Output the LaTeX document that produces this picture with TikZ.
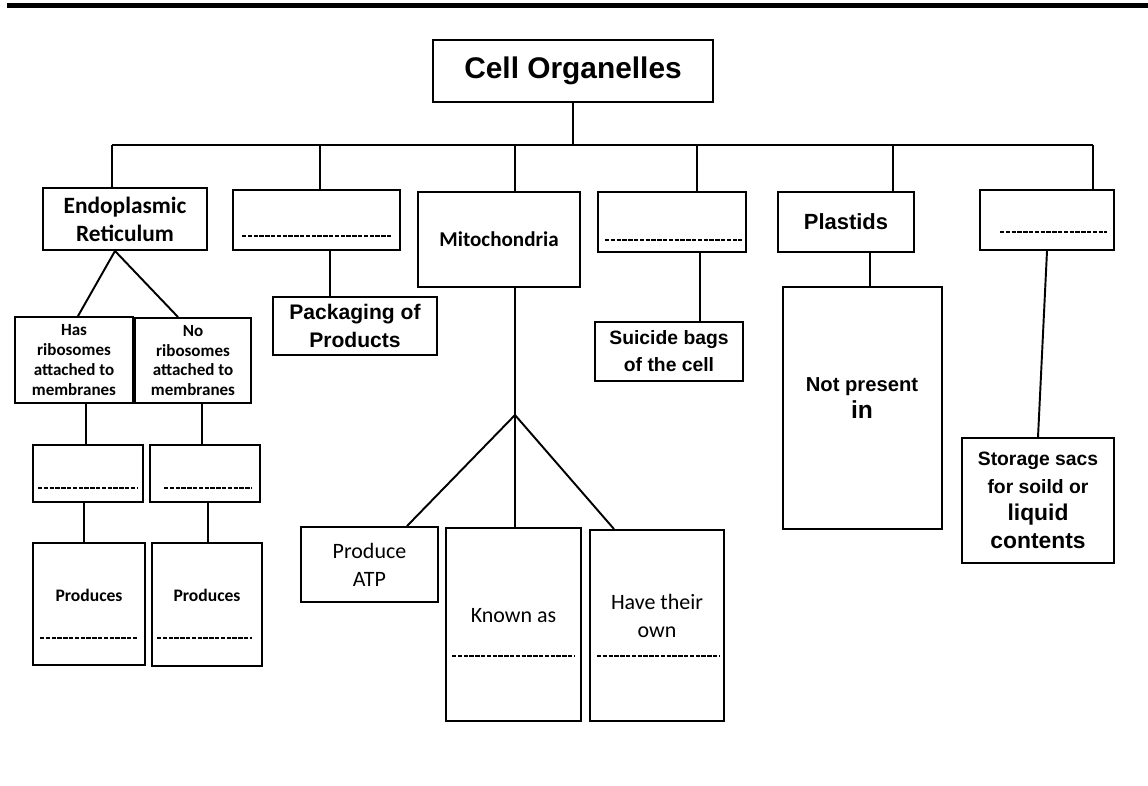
\documentclass[tikz,border=0pt]{standalone}
\usepackage{fontspec}
\setmainfont{Liberation Sans}
\newfontfamily\calfont{Carlito}
\usetikzlibrary{positioning}

\tikzset{
  box/.style={draw, line width=1.1pt, inner sep=0pt, align=center},
  sz/.style 2 args={minimum width=#1*0.02cm, minimum height=#2*0.02cm},
  link/.style={line width=1.1pt},
  fillin/.style={line width=0.9pt, dash pattern=on 2.5pt off 0.8pt},
}

\begin{document}
\begin{tikzpicture}[x=0.02cm, y=-0.02cm]
\useasboundingbox (0,0) rectangle (1148,785);
\fill (7,3) rectangle (1148,8);

\node[box, sz={280}{62}, font=\bfseries\fontsize{17}{20}\selectfont] (ttl) at (573,71) {Cell Organelles};

\coordinate (b1) at (112,145);
\coordinate (b2) at (320,145);
\coordinate (b3) at (515,145);
\coordinate (b4) at (697,145);
\coordinate (b5) at (893,145);
\coordinate (b6) at (1093,145);
\draw[link] (ttl.south) -- (ttl.south |- b1);
\draw[link] (b1) -- (b6);

% first row
\node[box, sz={164}{62}, font=\calfont\bfseries\fontsize{13.3}{16}\selectfont] (er) at (125,219) {Endoplasmic\\Reticulum};
\node[box, sz={167}{60}] (bl1) at (316.5,220) {};
\node[box, sz={162}{95}, font=\calfont\bfseries\fontsize{12}{14}\selectfont] (mito) at (499,239.5) {Mitochondria};
\node[box, sz={148}{60}] (bl2) at (672,222) {};
\node[box, sz={136}{60}, font=\bfseries\fontsize{12.5}{15}\selectfont] (pla) at (846,222) {Plastids};
\node[box, sz={134}{60}] (bl3) at (1047,220) {};
\foreach \b/\n in {b1/er,b2/bl1,b3/mito,b4/bl2,b5/pla,b6/bl3}
  \draw[link] (\b) -- (\b |- \n.north);
\draw[fillin] (242,236) -- (392,236);
\draw[fillin] (605,240) -- (742,240);
\draw[fillin] (1000,232) -- (1107,232);

% endoplasmic reticulum
\node[box, sz={118}{86}, font=\calfont\bfseries\fontsize{9.7}{11.3}\selectfont] (has) at (74,360) {Has\\ribosomes\\attached to\\membranes};
\node[box, sz={116}{85}, font=\calfont\bfseries\fontsize{9.7}{11.3}\selectfont] (nor) at (193,360.5) {No\\ribosomes\\attached to\\membranes};
\draw[link] (has.north -| 78,0) -- (er.south -| 115,0) -- (nor.north -| 178,0);
\node[box, sz={110}{57}] (hasbl) at (88,473.5) {};
\node[box, sz={110}{57}] (norbl) at (205,473.5) {};
\draw[link] (has.south -| 86,0) -- (hasbl.north -| 86,0);
\draw[link] (nor.south -| 202,0) -- (norbl.north -| 202,0);
\draw[fillin] (38,488) -- (137,488);
\draw[fillin] (164,488) -- (252,488);
\node[box, sz={112}{122}] (hasprod) at (89,604) {};
\node[box, sz={110}{123}] (norprod) at (207,604.5) {};
\draw[link] (hasbl.south -| 84,0) -- (hasprod.north -| 84,0);
\draw[link] (norbl.south -| 208,0) -- (norprod.north -| 208,0);
\node[font=\calfont\bfseries\fontsize{10}{12}\selectfont] (hasprodt) at (89,595) {Produces};
\node[font=\calfont\bfseries\fontsize{10}{12}\selectfont] (norprodt) at (207,595) {Produces};
\draw[fillin] (40,638) -- (137,638);
\draw[fillin] (157,638) -- (252,638);

% golgi
\node[box, sz={164}{58}, font=\bfseries\fontsize{12}{15.9}\selectfont] (pack) at (355,326) {Packaging of\\Products};
\draw[link] (bl1.south -| 330,0) -- (pack.north -| 330,0);

% mitochondria
\coordinate (mfork) at (515,415);
\draw[link] (mito.south -| mfork) -- (mfork);
\node[box, sz={137}{75}, font=\calfont\fontsize{12.5}{16}\selectfont] (atp) at (369.5,564.5) {Produce\\ATP};
\node[box, sz={135}{193}] (known) at (513.5,624.5) {};
\node[box, sz={134}{191}] (own) at (657,625.5) {};
\draw[link] (mfork) -- (atp.north -| 407,0);
\draw[link] (mfork) -- (known.north -| mfork);
\draw[link] (mfork) -- (own.north -| 614,0);
\node[font=\calfont\fontsize{12.5}{16}\selectfont] (knownt) at (513.5,616) {Known as};
\node[font=\calfont\fontsize{12.5}{16}\selectfont, align=center] (ownt) at (657,616) {Have their\\own};
\draw[fillin] (452,656) -- (575,656);
\draw[fillin] (597,656) -- (720,656);

% lysosome
\node[box, sz={148}{59}, font=\bfseries\fontsize{11}{15.3}\selectfont] (sui) at (669,351.5) {Suicide bags\\of the cell};
\draw[link] (bl2.south -| 700,0) -- (sui.north -| 700,0);

% plastids
\node[box, sz={159}{242}] (notp) at (862.5,408) {};
\draw[link] (pla.south -| 870,0) -- (notp.north -| 870,0);
\node[font=\bfseries\fontsize{11.5}{15.3}\selectfont, align=center] (notpt) at (862,398) {Not present\\{\fontsize{14}{15.3}\selectfont in}};

% vacuole
\node[box, sz={152}{125}, font=\bfseries\fontsize{11}{15.7}\selectfont] (sto) at (1038,500.5) {Storage sacs\\for soild or\\{\fontsize{13}{15.7}\selectfont liquid}\\{\fontsize{13}{15.7}\selectfont contents}};
\draw[link] (bl3.south) -- (sto.north);
\end{tikzpicture}
\end{document}
